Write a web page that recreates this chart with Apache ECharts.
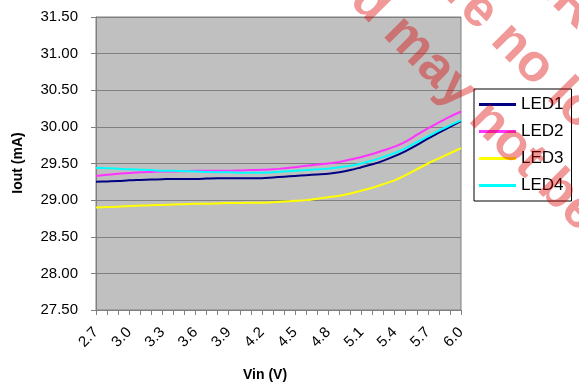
<!DOCTYPE html>
<html>
<head>
<meta charset="utf-8">
<script src="https://cdn.jsdelivr.net/npm/echarts@6/dist/echarts.min.js"></script>
<style>
html,body{margin:0;padding:0;background:#fff;}
#chart{width:579px;height:385px;}
</style>
</head>
<body>
<div id="chart"></div>
<script>
// Categories: Vin (V), 0.1 V steps
const vin = ['2.7','2.8','2.9','3.0','3.1','3.2','3.3','3.4','3.5','3.6','3.7','3.8','3.9','4.0','4.1','4.2','4.3','4.4','4.5','4.6','4.7','4.8','4.9','5.0','5.1','5.2','5.3','5.4','5.5','5.6','5.7','5.8','5.9','6.0'];

const led1 = [29.25,29.255,29.26,29.27,29.275,29.28,29.285,29.29,29.29,29.29,29.295,29.30,29.30,29.30,29.30,29.30,29.31,29.32,29.33,29.34,29.35,29.36,29.38,29.41,29.45,29.49,29.54,29.60,29.67,29.75,29.84,29.92,30.00,30.08];
const led2 = [29.33,29.345,29.36,29.37,29.38,29.385,29.39,29.39,29.395,29.40,29.40,29.40,29.40,29.405,29.41,29.415,29.42,29.435,29.45,29.47,29.485,29.50,29.52,29.555,29.59,29.63,29.68,29.73,29.80,29.89,29.98,30.06,30.14,30.21];
const led3 = [28.90,28.905,28.91,28.92,28.925,28.93,28.935,28.94,28.945,28.95,28.95,28.955,28.96,28.96,28.965,28.965,28.97,28.98,28.99,29.00,29.02,29.04,29.06,29.09,29.13,29.17,29.22,29.27,29.34,29.42,29.50,29.57,29.64,29.71];
const led4 = [29.44,29.435,29.43,29.42,29.415,29.41,29.40,29.40,29.395,29.39,29.385,29.38,29.38,29.375,29.375,29.375,29.38,29.39,29.40,29.41,29.42,29.43,29.45,29.47,29.50,29.54,29.59,29.64,29.71,29.79,29.87,29.95,30.02,30.09];

const seriesNames = ['LED1','LED2','LED3','LED4'];
const seriesColors = ['#000080','#ff33ff','#ffff00','#00ffff'];
const seriesData = [led1, led2, led3, led4];

const yMin = 27.5, yMax = 31.5, yStep = 0.5;
const xTitle = 'Vin (V)';
const yTitle = 'Iout (mA)';
const watermark = ['are no longer', 'and may not be', 'NRND'];

const FONT = 'Liberation Sans, Arial, sans-serif';

const chart = echarts.init(document.getElementById('chart'), null, {renderer:'canvas'});
chart.setOption({
  animation: false,
  backgroundColor: '#ffffff',
  grid: {left: 96, right: 118, top: 17, bottom: 75, show: true,
         backgroundColor: '#c0c0c0', borderColor: '#808080', borderWidth: 1},
  legend: {
    orient: 'vertical', left: 474, top: 89,
    icon: 'rect', itemWidth: 37, itemHeight: 3, itemGap: 10,
    padding: [7, 8, 7, 5],
    borderColor: '#000', borderWidth: 1, backgroundColor: '#fff',
    textStyle: {fontSize: 17, fontFamily: FONT, color: '#000', lineHeight: 17},
    data: seriesNames
  },
  xAxis: {
    type: 'category', data: vin, boundaryGap: false,
    axisLine: {lineStyle: {color: '#808080', width: 1}},
    axisTick: {show: true, interval: 0, length: 5, lineStyle: {color: '#808080'}},
    axisLabel: {interval: 2, rotate: 45, margin: 20, fontSize: 15, color: '#000', fontFamily: FONT},
    splitLine: {show: false}
  },
  yAxis: {
    type: 'value', min: yMin, max: yMax, interval: yStep,
    axisLine: {show: true, lineStyle: {color: '#808080', width: 1}},
    axisTick: {show: true, length: 5, lineStyle: {color: '#808080'}},
    axisLabel: {margin: 18, fontSize: 15, color: '#000', fontFamily: FONT,
                formatter: v => v.toFixed(2)},
    splitLine: {show: true, lineStyle: {color: '#808080', width: 1}}
  },
  series: seriesNames.map((n, i) => ({
    name: n, type: 'line', data: seriesData[i], smooth: 0.3,
    symbol: 'none', lineStyle: {color: seriesColors[i], width: 2},
    itemStyle: {color: seriesColors[i]}
  })),
  graphic: [
    {type: 'text', x: 265, y: 375, z: 50,
     style: {text: xTitle, font: 'bold 14px ' + FONT, fill: '#000', align: 'center', verticalAlign: 'middle'}},
    {type: 'text', x: 18, y: 163, rotation: Math.PI / 2, z: 50,
     style: {text: yTitle, font: 'bold 14px ' + FONT, fill: '#000', align: 'center', verticalAlign: 'middle'}},
    {type: 'text', x: 433, y: -35, rotation: -Math.PI / 4, z: 100,
     style: {text: watermark[0], font: 'bold 53px ' + FONT, fill: 'rgba(220,0,0,0.4)', align: 'left', verticalAlign: 'middle'}},
    {type: 'text', x: 315, y: -52, rotation: -Math.PI / 4, z: 100,
     style: {text: watermark[1], font: 'bold 53px ' + FONT, fill: 'rgba(220,0,0,0.4)', align: 'left', verticalAlign: 'middle'}},
    {type: 'text', x: 534, y: -34, rotation: -Math.PI / 4, z: 100,
     style: {text: watermark[2], font: 'bold 53px ' + FONT, fill: 'rgba(220,0,0,0.4)', align: 'left', verticalAlign: 'middle'}}
  ]
});
</script>
</body>
</html>
